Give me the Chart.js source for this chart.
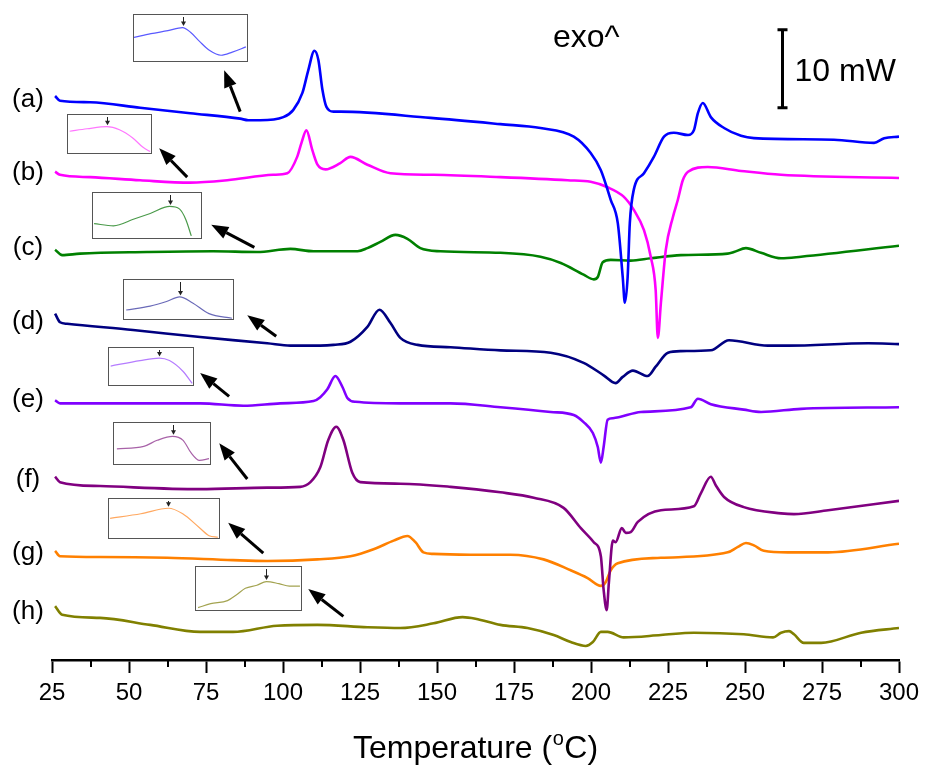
<!DOCTYPE html>
<html><head><meta charset="utf-8">
<script src="https://cdn.jsdelivr.net/npm/chart.js@4.4.0/dist/chart.umd.min.js"></script>
<style>
html,body{margin:0;padding:0;background:#fff;}
#wrap{position:relative;width:927px;height:767px;overflow:hidden;}
#main{position:absolute;left:0;top:0;}
.inset{position:absolute;border:1px solid #555;box-sizing:border-box;background:#fff;}
.inset canvas{display:block;}
</style></head><body>
<div id="wrap"><canvas id="main" width="927" height="767"></canvas></div>
<script>
// ---------------- DATA ----------------
const seriesLabels = ['(a)','(b)','(c)','(d)','(e)','(f)','(g)','(h)'];
const xTickLabels = [25,50,75,100,125,150,175,200,225,250,275,300];

// Temperatures (°C) and offset heat flow (mW, exo up)
const tempA = [26.0,27.6,37.4,53.6,69.9,86.1,88.7,92.6,100.1,103.3,106.3,108.2,110.2,111.5,112.8,114.1,116.4,118.6,147.9,170.6,183.6,194.4,199.9,203.2,206.4,208.7,210.3,211.0,211.9,212.6,213.9,217.2,220.4,223.7,226.9,231.5,233.4,234.7,236.3,238.9,243.2,248.7,252.9,278.9,291.9,295.2,300.0];
const heatA = [72.3,71.7,71.5,70.8,70.1,69.4,69.2,69.2,69.6,70.5,72.7,75.6,78.1,76.9,73.1,70.9,70.3,70.3,69.5,68.7,68.2,67.1,65.0,62.8,59.0,56.0,49.1,45.8,49.1,56.0,60.3,62.4,64.5,67.1,67.6,67.3,67.9,70.1,71.4,69.6,68.2,67.2,66.9,66.7,66.3,66.9,67.1];

const tempB = [26.0,27.6,37.4,53.6,69.9,81.9,96.8,101.4,104.6,106.0,107.6,109.5,111.2,113.8,118.6,121.9,127.4,134.9,148.9,170.6,192.4,199.9,205.4,210.6,213.9,217.2,219.4,221.0,221.7,222.7,224.3,226.6,228.2,229.8,231.5,237.9,248.7,261.7,300.0];
const heatB = [62.6,62.2,61.9,61.5,61.2,61.5,62.2,62.4,64.5,66.3,67.9,65.4,63.5,62.9,63.7,64.5,63.5,62.4,62.2,61.9,61.5,61.3,60.6,59.4,57.7,55.1,51.7,47.4,41.3,45.8,52.6,56.8,59.0,61.5,62.6,63.2,62.7,62.2,61.8];

const tempC = [26.0,28.3,34.1,55.9,77.3,91.6,102.4,109.9,124.2,127.4,131.6,136.5,140.4,144.6,151.1,170.6,183.6,190.2,197.6,200.9,202.2,203.8,206.4,212.9,219.4,229.2,244.4,246.4,250.3,255.2,261.7,268.2,300.0];
const heatC = [52.6,51.9,52.1,52.3,52.4,52.3,52.7,52.4,52.4,52.8,53.6,54.5,54.0,52.8,52.4,52.2,51.7,50.9,49.4,48.8,49.1,51.0,51.3,51.2,51.5,51.9,52.1,52.3,52.8,52.2,51.5,51.7,53.1];

const tempD = [26.0,27.6,29.9,51.3,73.1,94.9,102.4,112.1,116.4,121.9,127.4,131.3,134.9,138.1,143.7,154.4,170.6,186.9,197.6,204.1,208.0,210.3,213.6,218.4,221.0,225.0,229.2,238.9,244.8,257.4,263.9,290.0,300.0];
const heatD = [44.4,43.3,43.1,42.3,41.4,40.6,40.3,40.3,40.4,40.8,42.7,44.9,43.2,41.3,40.4,40.1,39.7,39.4,38.1,36.5,35.5,36.3,37.1,36.4,37.6,39.4,39.6,39.7,41.0,40.3,40.3,40.6,40.5];

const tempE = [26.0,27.6,40.6,73.1,87.1,99.1,109.9,112.1,114.4,117.0,119.3,120.9,123.5,138.1,154.4,170.6,186.9,194.4,197.6,200.6,202.2,203.2,204.1,205.4,207.1,216.2,232.4,234.7,238.9,249.6,255.2,268.2,300.0];
const heatE = [33.3,32.9,32.9,32.9,32.6,32.9,33.2,33.7,34.7,36.4,35.0,33.6,33.1,32.9,32.9,32.4,31.8,31.4,30.5,29.1,27.3,25.3,27.3,30.8,31.0,31.8,32.4,33.5,32.8,32.1,31.8,32.2,32.4];

const tempF = [26.0,27.6,40.6,73.1,94.9,105.6,108.9,112.1,114.7,117.3,119.6,122.5,125.1,138.1,154.4,170.6,181.4,191.1,196.7,200.9,203.2,204.1,205.1,205.8,207.1,208.0,210.0,211.3,212.9,215.2,222.7,233.4,235.7,238.9,240.5,243.2,249.6,261.7,265.9,277.0,300.0];
const heatF = [23.5,22.8,22.3,21.9,22.1,22.2,22.8,24.7,28.2,29.9,28.2,24.0,22.8,22.6,22.2,21.5,20.8,19.5,16.9,15.1,13.3,9.0,6.4,9.9,15.3,15.1,16.9,16.3,16.4,17.7,19.2,19.7,21.4,23.5,22.4,20.9,19.6,18.8,18.7,19.2,20.4];

const tempG = [26.0,27.6,40.6,62.4,83.8,94.9,111.2,121.9,129.4,135.9,140.4,143.0,145.6,148.9,160.9,173.9,184.6,193.4,198.9,203.2,204.8,206.4,208.7,222.7,244.4,247.7,250.3,252.9,256.1,263.9,277.0,300.0];
const heatG = [14.0,13.3,13.2,13.1,12.8,12.7,12.9,13.3,14.2,15.3,15.9,15.1,13.8,13.6,13.5,13.5,12.9,11.5,10.5,9.5,10.0,11.5,12.4,13.1,13.8,14.5,15.0,14.7,14.0,13.8,13.8,14.9];

const tempH = [26.0,28.3,40.6,56.9,73.1,83.8,98.1,111.2,127.4,138.1,148.9,158.3,162.5,170.6,179.4,187.9,193.4,198.3,200.6,203.2,205.4,210.6,222.7,233.4,249.6,259.1,261.7,264.3,265.9,269.1,274.7,287.7,300.0];
const heatH = [6.9,5.8,5.4,4.5,3.6,3.6,4.4,4.5,4.2,4.1,4.7,5.5,5.3,4.5,4.1,3.2,2.3,1.8,2.3,3.6,3.6,2.9,3.2,3.5,3.3,2.9,3.5,3.7,3.3,2.2,2.2,3.5,4.1];

// label heights (mW) of the curve names
const labelHeat = [71.8,62.4,52.8,43.3,33.3,23.1,13.7,6.2];

// magnified insets: relative position (0-1) and relative signal (0-100)
const insetAx = [0,0.15,0.30,0.43,0.50,0.58,0.67,0.77,0.87,0.99];
const insetAy = [51.4,59.7,66.7,73.5,63.1,42.3,21.5,11.0,18.1,29.8];
const insetBx = [0.02,0.23,0.47,0.62,0.78,0.90,0.99];
const insetBy = [57.5,64.3,70,61.8,39.3,14.3,1.8];
const insetCx = [0.01,0.19,0.38,0.53,0.71,0.80,0.86,0.91];
const insetCy = [31.3,26.2,41.9,54.7,70.9,65.3,40.4,2.8];
const insetDx = [0.02,0.24,0.39,0.51,0.63,0.78,0.99];
const insetDy = [22,32.5,44.6,56.8,40.7,12.2,0];
const insetEx = [0.02,0.37,0.60,0.72,0.88,0.99];
const insetEy = [51.3,66.7,73.6,66.7,36.7,2.6];
const insetFx = [0.03,0.31,0.45,0.61,0.72,0.80,0.89,0.99];
const insetFy = [36.5,42.6,58.1,68.2,58.1,27.2,7.0,11.6];
const insetGx = [0.01,0.29,0.54,0.67,0.82,0.91,0.99];
const insetGy = [50.5,62.7,77.3,62.7,26.1,4.1,0];
const insetHx = [0.02,0.14,0.30,0.39,0.47,0.58,0.67,0.79,0.89,0.99];
const insetHy = [3.8,13.3,20.7,35.6,50.4,57.8,66.7,61.6,55.6,55.6];

// pointer arrows (tail -> head) in data units (°C, mW)
const arrowTailT = [86.1,68.9,90.7,97.8,82.5,88.4,93.6,119.6];
const arrowTailV = [70.3,61.9,52.9,41.5,33.8,23.2,13.7,5.6];
const arrowHeadT = [80.9,59.8,76.7,88.4,73.1,79.3,82.2,108.2];
const arrowHeadV = [75.6,65.6,55.8,44.2,36.8,27.8,17.6,9.1];

// ---------------- STYLE / LAYOUT ----------------
const FONT = '"Liberation Sans", Arial, Helvetica, sans-serif';
const colors = ['#0000ff','#ff00ff','#008000','#000080','#8000ff','#800080','#ff8000','#808000'];
const insetColors = ['#5a5aff','#ff77ff','#4a9a4a','#6a6ab8','#b57cff','#a862a8','#ffa860','#a3a350'];
const insetBoxes = [[133,14,115,48],[67,114,85,40],[92,192,110,47],[123,279,111,41],[108,347,86,39],[113,422,98,43],[108,498,112,41],[195,566,107,45]];

Chart.defaults.font.family = FONT;
Chart.defaults.color = '#000';

const temps = [tempA,tempB,tempC,tempD,tempE,tempF,tempG,tempH];
const heats = [heatA,heatB,heatC,heatD,heatE,heatF,heatG,heatH];

const datasets = temps.map((t,k) => ({
  label: seriesLabels[k],
  data: t.map((x,i) => ({x: x, y: heats[k][i]})),
  borderColor: colors[k],
  borderWidth: 2.6,
  pointRadius: 0,
  fill: false,
  cubicInterpolationMode: 'monotone'
}));

function drawArrow(ctx, x1, y1, x2, y2, lw, hl, hw) {
  const a = Math.atan2(y2 - y1, x2 - x1);
  const bx = x2 - hl * Math.cos(a), by = y2 - hl * Math.sin(a);
  ctx.lineWidth = lw;
  ctx.beginPath(); ctx.moveTo(x1, y1); ctx.lineTo(bx, by); ctx.stroke();
  ctx.beginPath();
  ctx.moveTo(x2, y2);
  ctx.lineTo(bx + hw * Math.sin(a), by - hw * Math.cos(a));
  ctx.lineTo(bx - hw * Math.sin(a), by + hw * Math.cos(a));
  ctx.closePath(); ctx.fill();
}

const decor = {
  id: 'decor',
  afterDraw(chart) {
    const ctx = chart.ctx, xs = chart.scales.x, ys = chart.scales.y, ca = chart.chartArea;
    ctx.save();
    ctx.fillStyle = '#000'; ctx.strokeStyle = '#000';
    // minor ticks
    ctx.lineWidth = 2;
    for (let i = 0; i < xTickLabels.length - 1; i++) {
      const v = (xTickLabels[i] + xTickLabels[i+1]) / 2;
      const px = Math.round(xs.getPixelForValue(v));
      ctx.beginPath(); ctx.moveTo(px, ca.bottom); ctx.lineTo(px, ca.bottom + 7); ctx.stroke();
    }
    // series labels
    ctx.font = '26px ' + FONT;
    ctx.textAlign = 'center'; ctx.textBaseline = 'middle';
    seriesLabels.forEach((s, k) => {
      ctx.fillText(s, ca.left - 24, ys.getPixelForValue(labelHeat[k]));
    });
    // pointer arrows
    for (let k = 0; k < arrowTailT.length; k++) {
      drawArrow(ctx, xs.getPixelForValue(arrowTailT[k]), ys.getPixelForValue(arrowTailV[k]),
                xs.getPixelForValue(arrowHeadT[k]), ys.getPixelForValue(arrowHeadV[k]), 3, 17, 6.5);
    }
    // exo^
    ctx.textAlign = 'left'; ctx.textBaseline = 'alphabetic';
    ctx.font = '32px ' + FONT;
    ctx.fillText('exo^', 553, 47);
    // 10 mW scale bar (drawn in y units)
    const bx = Math.round(xs.getPixelForValue(262.0)) + 0.5;
    const y1 = ys.getPixelForValue(80.8), y2 = ys.getPixelForValue(70.8);
    ctx.lineWidth = 3;
    ctx.beginPath(); ctx.moveTo(bx, y1); ctx.lineTo(bx, y2); ctx.stroke();
    ctx.beginPath(); ctx.moveTo(bx - 5, y1); ctx.lineTo(bx + 5, y1); ctx.moveTo(bx - 5, y2); ctx.lineTo(bx + 5, y2); ctx.stroke();
    ctx.fillText('10 mW', bx + 12, (y1 + y2) / 2 + 12);
    // axis title with superscript
    const cx = (ca.left + ca.right) / 2, base = 758;
    ctx.font = '32px ' + FONT;
    const p1 = 'Temperature (', p3 = 'C)';
    const w1 = ctx.measureText(p1).width, w3 = ctx.measureText(p3).width;
    ctx.font = '20px ' + FONT;
    const w2 = ctx.measureText('o').width + 1;
    const x0 = cx - (w1 + w2 + w3) / 2;
    ctx.font = '32px ' + FONT;
    ctx.fillText(p1, x0, base);
    ctx.fillText(p3, x0 + w1 + w2, base);
    ctx.font = '20px ' + FONT;
    ctx.fillText('o', x0 + w1 + 0.5, base - 13);
    ctx.restore();
  }
};

new Chart(document.getElementById('main'), {
  type: 'line',
  data: { datasets },
  options: {
    responsive: false,
    animation: false,
    layout: { padding: { left: 52, right: 28, top: 10, bottom: 0 } },
    plugins: { legend: { display: false }, tooltip: { enabled: false } },
    scales: {
      x: {
        type: 'linear', min: 25, max: 300,
        afterBuildTicks: (s) => {
          const t = [];
          xTickLabels.forEach((v, i) => {
            t.push({ value: v });
            if (i < xTickLabels.length - 1) t.push({ value: (v + xTickLabels[i+1]) / 2 });
          });
          s.ticks = t;
        },
        afterFit: (s) => { s.height = 107; },
        ticks: {
          autoSkip: false, maxRotation: 0, padding: 6,
          font: { size: 24 }, color: '#000',
          callback: (v) => xTickLabels.includes(v) ? String(v) : ''
        },
        grid: {
          drawOnChartArea: false, drawTicks: true, tickLength: 13, tickWidth: 2,
          tickColor: (c) => (c.tick && xTickLabels.includes(c.tick.value)) ? '#000' : 'rgba(0,0,0,0)'
        },
        border: { display: true, color: '#000', width: 2.5 }
      },
      y: { type: 'linear', display: false, min: 0, max: 83.33 }
    }
  },
  plugins: [decor]
});

// ---------------- INSETS ----------------
const miniArrow = {
  id: 'miniArrow',
  afterDatasetsDraw(c) {
    const d = c.data.datasets[0].data;
    let k = 0; d.forEach((p, i) => { if (p.y > d[k].y) k = i; });
    const x = Math.round(c.scales.x.getPixelForValue(d[k].x)) + 0.5;
    const y = c.scales.y.getPixelForValue(d[k].y);
    const ctx = c.ctx;
    ctx.save(); ctx.strokeStyle = '#222'; ctx.fillStyle = '#222'; ctx.lineWidth = 1;
    ctx.beginPath(); ctx.moveTo(x, 2); ctx.lineTo(x, y - 4); ctx.stroke();
    ctx.beginPath(); ctx.moveTo(x - 2.5, y - 6); ctx.lineTo(x + 2.5, y - 6); ctx.lineTo(x, y - 1.5); ctx.closePath(); ctx.fill();
    ctx.restore();
  }
};
const insetXs = [insetAx,insetBx,insetCx,insetDx,insetEx,insetFx,insetGx,insetHx];
const insetYs = [insetAy,insetBy,insetCy,insetDy,insetEy,insetFy,insetGy,insetHy];
const wrap = document.getElementById('wrap');
insetBoxes.forEach((b, k) => {
  const div = document.createElement('div');
  div.className = 'inset';
  div.style.left = b[0] + 'px'; div.style.top = b[1] + 'px';
  div.style.width = b[2] + 'px'; div.style.height = b[3] + 'px';
  const cv = document.createElement('canvas');
  cv.width = b[2] - 2; cv.height = b[3] - 2;
  div.appendChild(cv); wrap.appendChild(div);
  new Chart(cv, {
    type: 'line',
    data: { datasets: [{
      data: insetXs[k].map((x, i) => ({ x: x, y: insetYs[k][i] })),
      borderColor: insetColors[k], borderWidth: 1.2, pointRadius: 0,
      cubicInterpolationMode: 'monotone', fill: false
    }] },
    options: {
      responsive: false, animation: false,
      layout: { padding: 0 },
      plugins: { legend: { display: false }, tooltip: { enabled: false } },
      scales: {
        x: { type: 'linear', display: false, min: 0, max: 1 },
        y: { type: 'linear', display: false, min: -2, max: 102 }
      }
    },
    plugins: [miniArrow]
  });
});
</script>
</body></html>
